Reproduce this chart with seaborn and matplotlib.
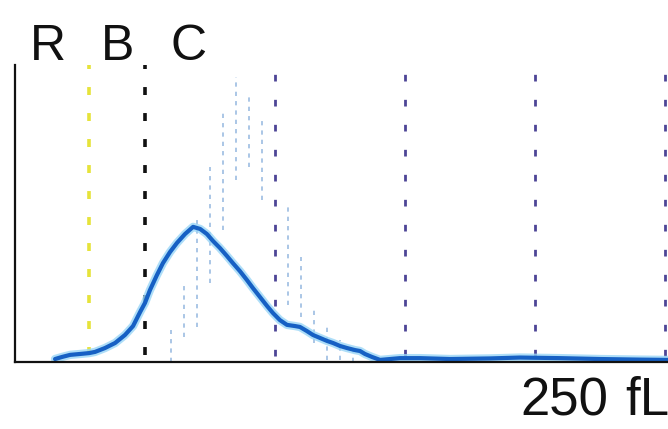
import numpy as np
import pandas as pd
import matplotlib
matplotlib.use("Agg")
import matplotlib.pyplot as plt
import seaborn as sns

# ---- data (volume in fL, relative count 0-100) ----
curve_fl = [15.4, 18.1, 21.2, 25.0, 28.5, 30.8, 34.6, 38.5, 42.3, 45.4, 48.1, 50.0,
            51.9, 54.6, 56.9, 59.6, 62.3, 65.4, 68.5, 71.2, 73.8, 76.2, 78.8, 81.5,
            83.8, 86.5, 89.2, 91.5, 94.2, 96.9, 99.2, 101.9, 104.6, 107.7, 109.6,
            112.3, 114.6, 117.3, 120.0, 122.3, 125.0, 127.7, 130.8, 132.7, 134.6,
            137.3, 140.4, 148.1, 155.8, 167.3, 182.7, 194.2, 209.6, 225.0, 240.4, 251.2]
curve_val = [1.0, 1.7, 2.4, 2.7, 3.0, 3.4, 4.7, 6.4, 9.1, 12.1, 16.8, 19.9,
             24.2, 29.3, 33.3, 37.0, 40.1, 43.1, 45.5, 44.8, 43.1, 40.7, 38.4, 35.7,
             33.3, 30.6, 27.6, 24.9, 21.9, 18.9, 16.5, 14.1, 12.5, 12.1, 11.8,
             10.4, 9.1, 8.1, 7.1, 6.4, 5.4, 4.7, 4.0, 3.7, 2.7,
             1.7, 0.7, 1.3, 1.3, 1.0, 1.2, 1.5, 1.3, 1.0, 0.8, 0.7]

ghost_fl = [60, 65, 70, 75, 80, 85, 90, 95, 105, 110, 115, 120, 125, 130]
ghost_low = [0.0, 8.4, 11.8, 26.6, 44.4, 61.3, 65.7, 54.5, 19.2, 15.2, 6.4, 0.7, 0.7, 0.0]
ghost_high = [10.8, 26.6, 48.8, 65.7, 83.8, 96.0, 90.6, 82.5, 52.2, 35.4, 18.5, 12.5, 7.4, 5.7]

disc_fl = [28.5, 50.0]          # R (yellow) and B (black) discriminators
disc_colors = ["#e6e33a", "#111111"]
grid_fl = [100, 150, 200, 250]  # purple reference lines

title_letters = ["R", "B", "C"]
axis_label = ["250", "fL"]

# ---- figure ----
W, H = 668, 429
sns.set_style("white")
plt.rcParams["font.family"] = ["Liberation Sans", "DejaVu Sans"]
fig = plt.figure(figsize=(W / 100, H / 100), dpi=100)
x0, x1 = 15, 668
ytop, ybot = 65, 362
ax = fig.add_axes([x0 / W, (H - ybot) / H, (x1 - x0) / W, (ybot - ytop) / H])
ax.set_xlim(0, (x1 - x0) / 2.6)
ax.set_ylim(0, 100)

# reference lines
for f, c in zip(disc_fl, disc_colors):
    ax.vlines(f, 2.5, 100, colors=c, lw=2.6, linestyles=(0, (2.2, 5.0)))
for f in grid_fl:
    ax.vlines(f, 2.0, 100, colors="#4d4596", lw=2.0, linestyles=(0, (2.4, 6.6)))

# ghost range segments
ax.vlines(ghost_fl, ghost_low, ghost_high, colors="#aac6e6", lw=1.4,
          linestyles=(0, (2.2, 2.6)))

# histogram curve
df = pd.DataFrame({"fL": curve_fl, "count": curve_val})
sns.lineplot(data=df, x="fL", y="count", ax=ax, color="#9ad6f7", lw=6.0,
             alpha=0.8, sort=False)
sns.lineplot(data=df, x="fL", y="count", ax=ax, color="#1660c4", lw=3.0, sort=False)

ax.set_xlabel("")
ax.set_ylabel("")
ax.set_xticks([])
ax.set_yticks([])
for s in ["top", "right"]:
    ax.spines[s].set_visible(False)
for s in ["left", "bottom"]:
    ax.spines[s].set_color("#111111")
    ax.spines[s].set_linewidth(1.6)

# texts
for ch, cx in zip(title_letters, [48, 118, 189]):
    fig.text(cx / W, 1 - 60 / H, ch, ha="center", va="baseline", fontsize=36,
             color="#111111")
for t, cx in zip(axis_label, [564, 647]):
    fig.text(cx / W, 1 - 415 / H, t, ha="center", va="baseline", fontsize=38,
             color="#111111")

fig.savefig("out.png", dpi=100)
